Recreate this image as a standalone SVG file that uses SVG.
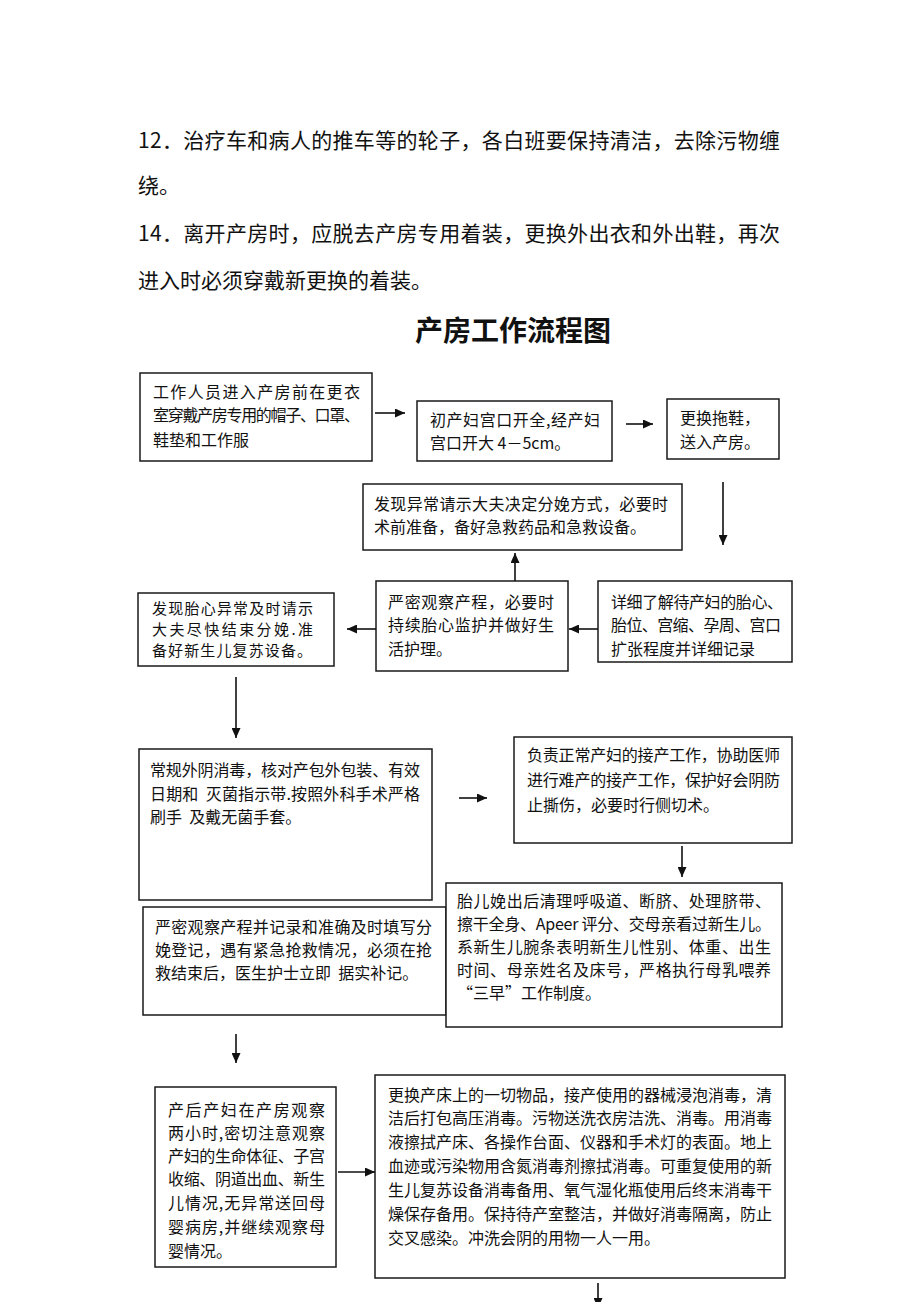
<svg xmlns="http://www.w3.org/2000/svg" width="920" height="1302" viewBox="0 0 920 1302">
<style>
text{font-family:"Noto Sans CJK SC","Noto Sans CJK TC",sans-serif;fill:#111;}
.p{font-size:21px;}
.t{font-size:28px;font-weight:bold;}
.b{font-size:16px;}
.s{font-size:15px;}
.pre{white-space:pre;}
rect.n{fill:#fff;stroke:#1a1a1a;stroke-width:1.5;}
.c line{stroke:#111;stroke-width:1.6;marker-end:url(#ah);}
</style>
<defs>
<marker id="ah" markerUnits="userSpaceOnUse" markerWidth="10" markerHeight="9" refX="10" refY="4.5" orient="auto"><path d="M0,0 L10,4.5 L0,9 z" fill="#111"/></marker>
</defs>
<rect width="920" height="1302" fill="#fff"/>
<g id="paragraph">
<text class="p" x="138" y="148" textLength="642" lengthAdjust="spacing">12．治疗车和病人的推车等的轮子，各白班要保持清洁，去除污物缠</text>
<text class="p" x="138" y="193">绕。</text>
<text class="p" x="138" y="241" textLength="642" lengthAdjust="spacing">14．离开产房时，应脱去产房专用着装，更换外出衣和外出鞋，再次</text>
<text class="p" x="138" y="288">进入时必须穿戴新更换的着装。</text>
</g>
<g id="title"><text class="t" x="513" y="341" text-anchor="middle">产房工作流程图</text></g>
<g id="n1"><rect class="n" x="140" y="373" width="232" height="88"/>
<text class="b" x="153" y="398" textLength="207" lengthAdjust="spacing">工作人员进入产房前在更衣</text>
<text class="b" x="153" y="421" textLength="207" lengthAdjust="spacing">室穿戴产房专用的帽子、口罩、</text>
<text class="b" x="153" y="446">鞋垫和工作服</text></g>
<g id="n2"><rect class="n" x="417" y="401" width="195" height="60"/>
<text class="b" x="430" y="426" textLength="170" lengthAdjust="spacing">初产妇宫口开全,经产妇</text>
<text class="b" x="430" y="449">宫口开大 4－5cm。</text></g>
<g id="n3"><rect class="n" x="667" y="399" width="112" height="60"/>
<text class="b" x="680" y="424">更换拖鞋，</text>
<text class="b" x="680" y="448">送入产房。</text></g>
<g id="n4"><rect class="n" x="363" y="484" width="319" height="66"/>
<text class="b" x="374" y="510" textLength="294" lengthAdjust="spacing">发现异常请示大夫决定分娩方式，必要时</text>
<text class="b" x="374" y="533">术前准备，备好急救药品和急救设备。</text></g>
<g id="n5"><rect class="n" x="376" y="581" width="192" height="90"/>
<text class="b" x="388" y="608" textLength="166" lengthAdjust="spacing">严密观察产程，必要时</text>
<text class="b" x="388" y="631" textLength="166" lengthAdjust="spacing">持续胎心监护并做好生</text>
<text class="b" x="388" y="655">活护理。</text></g>
<g id="n6"><rect class="n" x="598" y="581" width="194" height="81"/>
<text class="b" x="611" y="608" textLength="172" lengthAdjust="spacing">详细了解待产妇的胎心、</text>
<text class="b" x="611" y="631" textLength="170" lengthAdjust="spacing">胎位、宫缩、孕周、宫口</text>
<text class="b" x="611" y="655">扩张程度并详细记录</text></g>
<g id="n7"><rect class="n" x="138" y="593" width="196" height="73"/>
<text class="s" x="152" y="614" textLength="161" lengthAdjust="spacing">发现胎心异常及时请示</text>
<text class="s" x="152" y="635" textLength="161" lengthAdjust="spacing">大夫尽快结束分娩.准</text>
<text class="s" x="152" y="656" textLength="160" lengthAdjust="spacing">备好新生儿复苏设备。</text></g>
<g id="n8"><rect class="n" x="139" y="749" width="293" height="151"/>
<text class="b" x="150" y="776" textLength="270" lengthAdjust="spacing">常规外阴消毒，核对产包外包装、有效</text>
<text class="b pre" x="150" y="800" textLength="270" lengthAdjust="spacing">日期和  灭菌指示带.按照外科手术严格</text>
<text class="b pre" x="150" y="823">刷手  及戴无菌手套。</text></g>
<g id="n9"><rect class="n" x="514" y="737" width="278" height="106"/>
<text class="b" x="527" y="761" textLength="253" lengthAdjust="spacing">负责正常产妇的接产工作，协助医师</text>
<text class="b" x="527" y="786" textLength="253" lengthAdjust="spacing">进行难产的接产工作，保护好会阴防</text>
<text class="b" x="527" y="811">止撕伤，必要时行侧切术。</text></g>
<g id="n11"><rect class="n" x="143" y="907" width="303" height="108"/>
<text class="b" x="155" y="933" textLength="277" lengthAdjust="spacing">严密观察产程并记录和准确及时填写分</text>
<text class="b" x="155" y="956" textLength="277" lengthAdjust="spacing">娩登记，遇有紧急抢救情况，必须在抢</text>
<text class="b pre" x="155" y="979">救结束后，医生护士立即  据实补记。</text></g>
<g id="n10"><rect class="n" x="446" y="883" width="336" height="144"/>
<text class="b" x="457" y="907" textLength="314" lengthAdjust="spacing">胎儿娩出后清理呼吸道、断脐、处理脐带、</text>
<text class="b" x="457" y="930" textLength="314" lengthAdjust="spacing">擦干全身、Apeer 评分、交母亲看过新生儿。</text>
<text class="b" x="457" y="953" textLength="314" lengthAdjust="spacing">系新生儿腕条表明新生儿性别、体重、出生</text>
<text class="b" x="457" y="976" textLength="314" lengthAdjust="spacing">时间、母亲姓名及床号，严格执行母乳喂养</text>
<text class="b" x="457" y="999">“三早”工作制度。</text></g>
<g id="n12"><rect class="n" x="155" y="1087" width="181" height="180"/>
<text class="b" x="168" y="1116" textLength="157" lengthAdjust="spacing">产后产妇在产房观察</text>
<text class="b" x="168" y="1139" textLength="157" lengthAdjust="spacing">两小时,密切注意观察</text>
<text class="b" x="168" y="1162" textLength="157" lengthAdjust="spacing">产妇的生命体征、子宫</text>
<text class="b" x="168" y="1185" textLength="157" lengthAdjust="spacing">收缩、阴道出血、新生</text>
<text class="b" x="168" y="1209" textLength="157" lengthAdjust="spacing">儿情况,无异常送回母</text>
<text class="b" x="168" y="1233" textLength="157" lengthAdjust="spacing">婴病房,并继续观察母</text>
<text class="b" x="168" y="1257">婴情况。</text></g>
<g id="n13"><rect class="n" x="375" y="1075" width="410" height="203"/>
<text class="b" x="388" y="1101" textLength="384" lengthAdjust="spacing">更换产床上的一切物品，接产使用的器械浸泡消毒，清</text>
<text class="b" x="388" y="1124" textLength="384" lengthAdjust="spacing">洁后打包高压消毒。污物送洗衣房洁洗、消毒。用消毒</text>
<text class="b" x="388" y="1148" textLength="384" lengthAdjust="spacing">液擦拭产床、各操作台面、仪器和手术灯的表面。地上</text>
<text class="b" x="388" y="1172" textLength="384" lengthAdjust="spacing">血迹或污染物用含氮消毒剂擦拭消毒。可重复使用的新</text>
<text class="b" x="388" y="1196" textLength="384" lengthAdjust="spacing">生儿复苏设备消毒备用、氧气湿化瓶使用后终末消毒干</text>
<text class="b" x="388" y="1220" textLength="384" lengthAdjust="spacing">燥保存备用。保持待产室整洁，并做好消毒隔离，防止</text>
<text class="b" x="388" y="1244">交叉感染。冲洗会阴的用物一人一用。</text></g>
<g id="connectors" class="c">
<line x1="375" y1="413" x2="405" y2="413"/>
<line x1="626" y1="424" x2="653" y2="424"/>
<line x1="723" y1="482" x2="723" y2="545"/>
<line x1="515" y1="581" x2="515" y2="553"/>
<line x1="598" y1="629" x2="569" y2="629"/>
<line x1="376" y1="629" x2="347" y2="629"/>
<line x1="236" y1="677" x2="236" y2="738"/>
<line x1="459" y1="798" x2="487" y2="798"/>
<line x1="682" y1="846" x2="682" y2="877"/>
<line x1="236" y1="1034" x2="236" y2="1063"/>
<line x1="338" y1="1172" x2="375" y2="1172"/>
<line x1="598" y1="1283" x2="598" y2="1308"/>
</g>
</svg>
